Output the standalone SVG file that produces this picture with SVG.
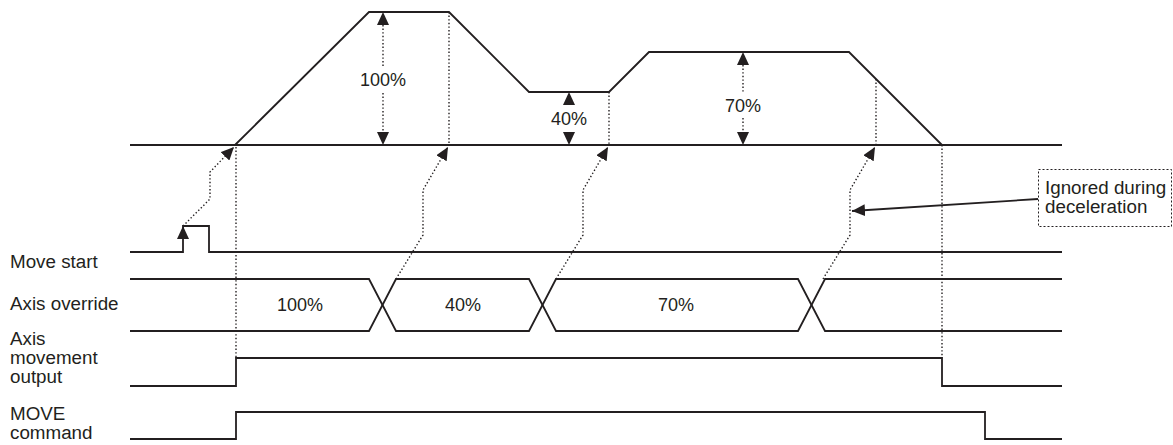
<svg xmlns="http://www.w3.org/2000/svg" width="1173" height="445" viewBox="0 0 1173 445">
<style>
.sig{fill:none;stroke:#231f20;stroke-width:1.8;stroke-linejoin:miter}
.dot{fill:none;stroke:#231f20;stroke-width:1.4;stroke-dasharray:1.4 2.2}
.tri{fill:#231f20;stroke:none}
.lbl{font-family:"Liberation Sans",Arial,Helvetica,sans-serif;font-size:18px;fill:#231f20}
.big{font-size:18.8px}
.mid{text-anchor:middle}
</style>
<defs>
<marker id="ah" markerUnits="userSpaceOnUse" markerWidth="14" markerHeight="12" refX="13" refY="6" orient="auto">
<path d="M0,0 L13,6 L0,12 z" fill="#231f20" stroke="none"/>
</marker>
</defs>
<rect width="1173" height="445" fill="#ffffff"/>

<g id="velocity">
<line class="sig" x1="130" y1="145" x2="1062" y2="145"/>
<polyline class="sig" points="235,145 369,12 449,12 529,92 609,92 649,52 849,52 942,145"/>
<line class="dot" x1="383" y1="25" x2="383" y2="66"/>
<line class="dot" x1="383" y1="93" x2="383" y2="132"/>
<polygon class="tri" points="383,12 377,25 389,25"/>
<polygon class="tri" points="383,145 377,132 389,132"/>
<text class="lbl mid" x="383" y="86">100%</text>
<polygon class="tri" points="569,92 563,105 575,105"/>
<polygon class="tri" points="569,145 563,132 575,132"/>
<text class="lbl mid" x="569" y="125">40%</text>
<line class="dot" x1="743" y1="65" x2="743" y2="92"/>
<line class="dot" x1="743" y1="118" x2="743" y2="132"/>
<polygon class="tri" points="743,52 737,65 749,65"/>
<polygon class="tri" points="743,145 737,132 749,132"/>
<text class="lbl mid" x="743" y="112">70%</text>
</g>

<g id="move-start">
<text class="lbl big" x="10" y="268">Move start</text>
<polyline class="sig" points="130,252 183,252 183,226 209,226 209,252 1062,252"/>
<polygon class="tri" points="183,226 177,239 189,239"/>
</g>

<g id="axis-override">
<text class="lbl big" x="10" y="310">Axis override</text>
<polyline class="sig" points="130,279 369,279 396,331 529,331 556,279 798,279 825,331 1062,331"/>
<polyline class="sig" points="130,331 369,331 396,279 529,279 556,331 798,331 825,279 1062,279"/>
<text class="lbl mid" x="300" y="311">100%</text>
<text class="lbl mid" x="463" y="311">40%</text>
<text class="lbl mid" x="676" y="311">70%</text>
</g>

<g id="axis-movement-output">
<text class="lbl big" x="10" y="345">Axis</text>
<text class="lbl big" x="10" y="364">movement</text>
<text class="lbl big" x="10" y="383">output</text>
<polyline class="sig" points="130,386 236,386 236,358 942,358 942,386 1062,386"/>
</g>

<g id="move-command">
<text class="lbl big" x="10" y="420">MOVE</text>
<text class="lbl big" x="10" y="439">command</text>
<polyline class="sig" points="130,439 236,439 236,412 985,412 985,439 1062,439"/>
</g>

<g id="callout">
<rect x="1038.5" y="169.5" width="133" height="57" fill="none" stroke="#231f20" stroke-width="1" stroke-dasharray="2 2"/>
<text class="lbl big" x="1045" y="194">Ignored during</text>
<text class="lbl big" x="1045" y="213">deceleration</text>
</g>

<g id="connectors">
<line class="dot" x1="236" y1="147" x2="236" y2="358"/>
<line class="dot" x1="449" y1="12" x2="449" y2="145"/>
<line class="dot" x1="609" y1="92" x2="609" y2="145"/>
<line class="dot" x1="876" y1="79" x2="876" y2="145"/>
<line class="dot" x1="942" y1="145" x2="942" y2="358"/>
<path class="dot" d="M183,226 L210,199 L210,172 L234,147" marker-end="url(#ah)"/>
<path class="dot" d="M396,279 L423,235 L423,190 L448,147" marker-end="url(#ah)"/>
<path class="dot" d="M556,279 L583,235 L583,190 L608,147" marker-end="url(#ah)"/>
<path class="dot" d="M823,279 L850,235 L850,190 L875,147" marker-end="url(#ah)"/>
<line x1="1038" y1="199" x2="852" y2="211" stroke="#231f20" stroke-width="1.8" marker-end="url(#ah)"/>
</g>
</svg>
